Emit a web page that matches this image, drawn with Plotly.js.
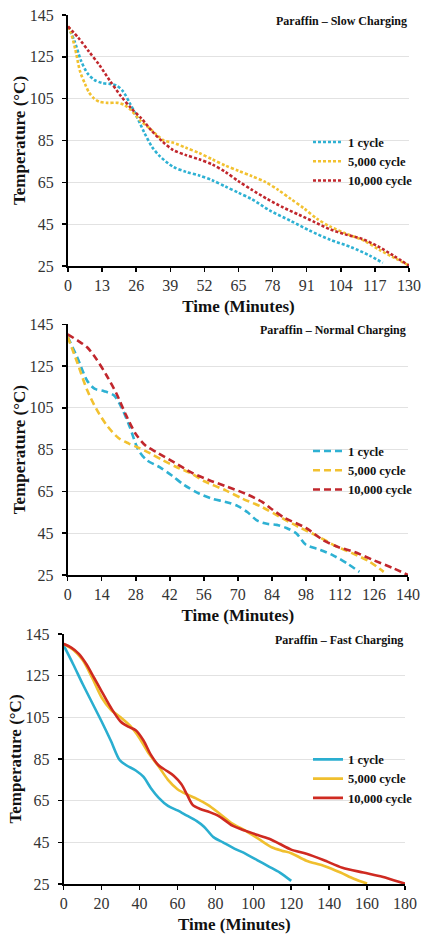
<!DOCTYPE html>
<html><head><meta charset="utf-8">
<script src="https://cdn.plot.ly/plotly-3.0.1.min.js"></script>
<style>html,body{margin:0;padding:0;background:#fff}#chart{width:423px;height:936px}</style>
</head><body><div id="chart"></div>
<script>
// ---- labels ----
const seriesNames = ['1 cycle', '5,000 cycle', '10,000 cycle'];
const panelTitles = ['Paraffin – Slow Charging', 'Paraffin – Normal Charging', 'Paraffin – Fast Charging'];
const xTitle = 'Time (Minutes)';
const yTitle = 'Temperature (°C)';
const yTicks = [25, 45, 65, 85, 105, 125, 145];
const slowTicks = [0, 13, 26, 39, 52, 65, 78, 91, 104, 117, 130];
const normalTicks = [0, 14, 28, 42, 56, 70, 84, 98, 112, 126, 140];
const fastTicks = [0, 20, 40, 60, 80, 100, 120, 140, 160, 180];

// ---- Slow charging ----
const slow1_t = [0, 2.5, 5, 7.5, 10, 13, 16, 18.5, 21, 23.5, 26, 29, 32, 35, 40, 45, 50, 55, 60, 65, 70, 77, 85, 92, 100, 108, 115, 120];
const slow1_T = [139.5, 132.5, 123, 117, 114, 112.5, 112, 111.3, 108.5, 103, 97, 89, 82, 77.5, 72.5, 70, 68.3, 66, 63, 60, 57, 51.5, 46.5, 42, 37.5, 34, 30, 26.5];
const slow2_t = [0, 1, 2.7, 4.6, 6.5, 8, 10, 12, 15, 19, 21.5, 24, 27.7, 31.5, 36.5, 40, 45, 50, 55, 60, 65, 70, 75, 80, 85, 90, 95, 100, 106, 113, 119, 125, 130];
const slow2_T = [139.5, 137, 129, 118, 112, 108, 105, 103.5, 103, 103, 102, 99.5, 94.4, 90.4, 85, 84, 81.5, 79, 76, 73, 70.5, 68, 65.3, 61.5, 57, 52.5, 47.5, 43.8, 40.5, 37, 32.5, 28.5, 25.2];
const slow3_t = [0, 4, 8, 12, 16, 20, 24, 28, 32, 36, 40, 45, 50, 55, 60, 65, 70, 76, 82, 88, 94, 100, 106, 112, 118, 124, 130];
const slow3_T = [139.5, 134, 127.5, 121, 113.5, 106.5, 100.5, 95.5, 89.5, 84.5, 80.5, 78, 76, 73.5, 70, 65.5, 61.5, 57, 53, 49.5, 46, 42.5, 40, 38, 34.5, 30, 25.2];

// ---- Normal charging ----
const norm1_t = [0, 4, 8, 11, 15, 19, 22, 25.5, 29, 32.5, 38, 43, 48, 54, 60, 65, 70, 74, 78, 82, 86, 90, 94, 98, 104, 109, 115, 120];
const norm1_T = [139, 129, 118, 114.2, 113, 111, 105.5, 96, 85, 80, 76.5, 72.5, 68, 64, 61.3, 60, 58, 55, 51, 49.5, 49, 47.5, 45, 39.5, 37, 34.5, 30.5, 26.5];
const norm2_t = [0, 4, 8, 12, 16.5, 21, 25, 29, 34, 39, 44.7, 51, 56, 65, 72, 80, 87, 95, 103, 110, 117, 124, 130];
const norm2_T = [139, 126.5, 113.5, 104, 96, 90.5, 88, 86, 83.2, 80, 76.7, 73.5, 70, 65.5, 61.5, 57.5, 53, 48, 43.5, 39, 35.5, 31.5, 26.5];
const norm3_t = [0, 4, 8, 12, 16, 20, 24, 28, 32, 37, 44, 51, 58, 65, 73, 80, 84, 89, 98, 105, 111, 118, 126, 134, 140];
const norm3_T = [140.2, 137.3, 134, 128, 120.5, 112, 101.5, 92.5, 87, 83.5, 78.8, 74, 70.5, 67.5, 64, 60, 56.5, 52.5, 47.5, 41.8, 38.5, 36, 32, 28.2, 25];

// ---- Fast charging ----
const fast1_t = [0, 5, 10, 15, 20, 25, 29.5, 33, 38, 42, 46, 50, 55, 60, 65, 70, 74, 79, 84, 90, 96, 102, 108, 114, 120];
const fast1_T = [139.5, 130.5, 121, 112, 103, 93.5, 84.5, 82, 79.5, 76.5, 71, 66.5, 62.5, 60.3, 57.8, 55.3, 52.5, 47.5, 45, 42, 39.5, 36.5, 33.5, 30.5, 26.5];
const fast2_t = [0, 5, 10, 15, 20, 25, 30, 35, 40, 45, 50, 55, 60, 65, 70, 76, 82, 89, 96, 103, 110, 115, 120, 128, 137, 146, 153, 160];
const fast2_T = [140.2, 137.5, 132.5, 124, 114.5, 108.5, 105, 101, 95, 87.5, 81.5, 75, 70.5, 68, 66, 63, 59, 54, 50.5, 46.5, 42.5, 41, 39.8, 36.2, 33.8, 30.5, 27.5, 25.2];
const fast3_t = [0, 4, 8, 12, 16, 20, 25, 30, 34, 38, 42, 46, 50, 54, 58, 62, 65, 68, 72, 77, 82, 89, 96, 103, 109, 114, 120, 128, 137, 147, 158, 168, 174, 180];
const fast3_T = [140.2, 138.5, 135.5, 130.5, 124, 117.5, 109.5, 103, 100.5, 98.8, 94, 87, 82, 79.5, 77, 73, 68, 63, 61, 59.5, 57.5, 53, 50.5, 48.3, 46.5, 44.2, 41.5, 39.5, 36.5, 32.8, 30.5, 28.5, 26.8, 25.2];

// ---- styling ----
const FONT = '"Liberation Serif", "Times New Roman", Times, serif';
const colors = ['#2EB1D3', '#F2C130', '#C1272D'];
const fastColors = ['#2AAED0', '#F0BF2E', '#CF2A21'];

const panels = [
  {data: [[slow1_t, slow1_T], [slow2_t, slow2_T], [slow3_t, slow3_T]], dash: '3px,2px', width: 2.6, cols: colors, ticks: slowTicks},
  {data: [[norm1_t, norm1_T], [norm2_t, norm2_T], [norm3_t, norm3_T]], dash: '7px,4px', width: 2.6, cols: colors, ticks: normalTicks},
  {data: [[fast1_t, fast1_T], [fast2_t, fast2_T], [fast3_t, fast3_T]], dash: 'solid', width: 2.6, cols: fastColors, ticks: fastTicks}
];

const xDomains = [[68/423, 409/423], [67.7/423, 408/423], [63.7/423, 405/423]];
const yDomains = [[1-266/936, 1-15/936], [1-575/936, 1-324.3/936], [1-884/936, 1-634/936]];
const legendTops = [127.4, 436.4, 744.7];

const traces = [];
const layout = {
  width: 423, height: 936,
  margin: {l: 0, r: 0, t: 0, b: 0},
  paper_bgcolor: '#fff', plot_bgcolor: '#fff',
  font: {family: FONT, color: '#222'},
  annotations: []
};

panels.forEach((p, i) => {
  const n = i === 0 ? '' : String(i + 1);
  const legName = 'legend' + n;
  p.data.forEach((d, k) => {
    traces.push({
      x: d[0], y: d[1], type: 'scatter', mode: 'lines',
      name: seriesNames[k],
      xaxis: 'x' + n, yaxis: 'y' + n,
      legend: legName,
      line: {color: p.cols[k], width: p.width, dash: p.dash, shape: 'spline', smoothing: 0.8}
    });
  });
  layout['xaxis' + n] = {
    domain: xDomains[i], anchor: 'y' + n,
    range: [0, p.ticks[p.ticks.length - 1]],
    tickmode: 'array', tickvals: p.ticks,
    showgrid: false, zeroline: false,
    showline: true, linecolor: '#000', linewidth: 1.5,
    ticks: 'outside', ticklen: 4, tickwidth: 1.5, tickcolor: '#000',
    tickfont: {family: FONT, size: 16, color: '#333'},
    title: {text: xTitle, font: {family: FONT, size: 17, color: '#111', weight: 'bold'}, standoff: 7}
  };
  layout['yaxis' + n] = {
    domain: yDomains[i], anchor: 'x' + n,
    range: [25, 145],
    tickmode: 'array', tickvals: yTicks,
    showgrid: true, gridcolor: '#e2e2e2', gridwidth: 1,
    zeroline: false,
    showline: true, linecolor: '#000', linewidth: 2,
    ticks: 'outside', ticklen: 4, tickwidth: 1.5, tickcolor: '#000',
    ticklabelstandoff: 5,
    tickfont: {family: FONT, size: 16, color: '#333'},
    title: {text: yTitle, font: {family: FONT, size: 17, color: '#111', weight: 'bold'}, standoff: 0}
  };
  layout[legName] = {
    x: (348 - 40) / 423, xanchor: 'left',
    y: 1 - legendTops[i] / 936, yanchor: 'top',
    bgcolor: 'rgba(0,0,0,0)', borderwidth: 0,
    font: {family: FONT, size: 12.5, color: '#111', weight: 'bold'}
  };
  layout.annotations.push({
    text: panelTitles[i], xref: 'x' + n + ' domain', yref: 'y' + n + ' domain',
    x: 1, y: 0.977, xanchor: 'right', yanchor: 'middle', showarrow: false,
    font: {family: FONT, size: 12, color: '#111', weight: 'bold'}
  });
});

Plotly.newPlot('chart', traces, layout, {staticPlot: true, displayModeBar: false});
</script>
</body></html>
